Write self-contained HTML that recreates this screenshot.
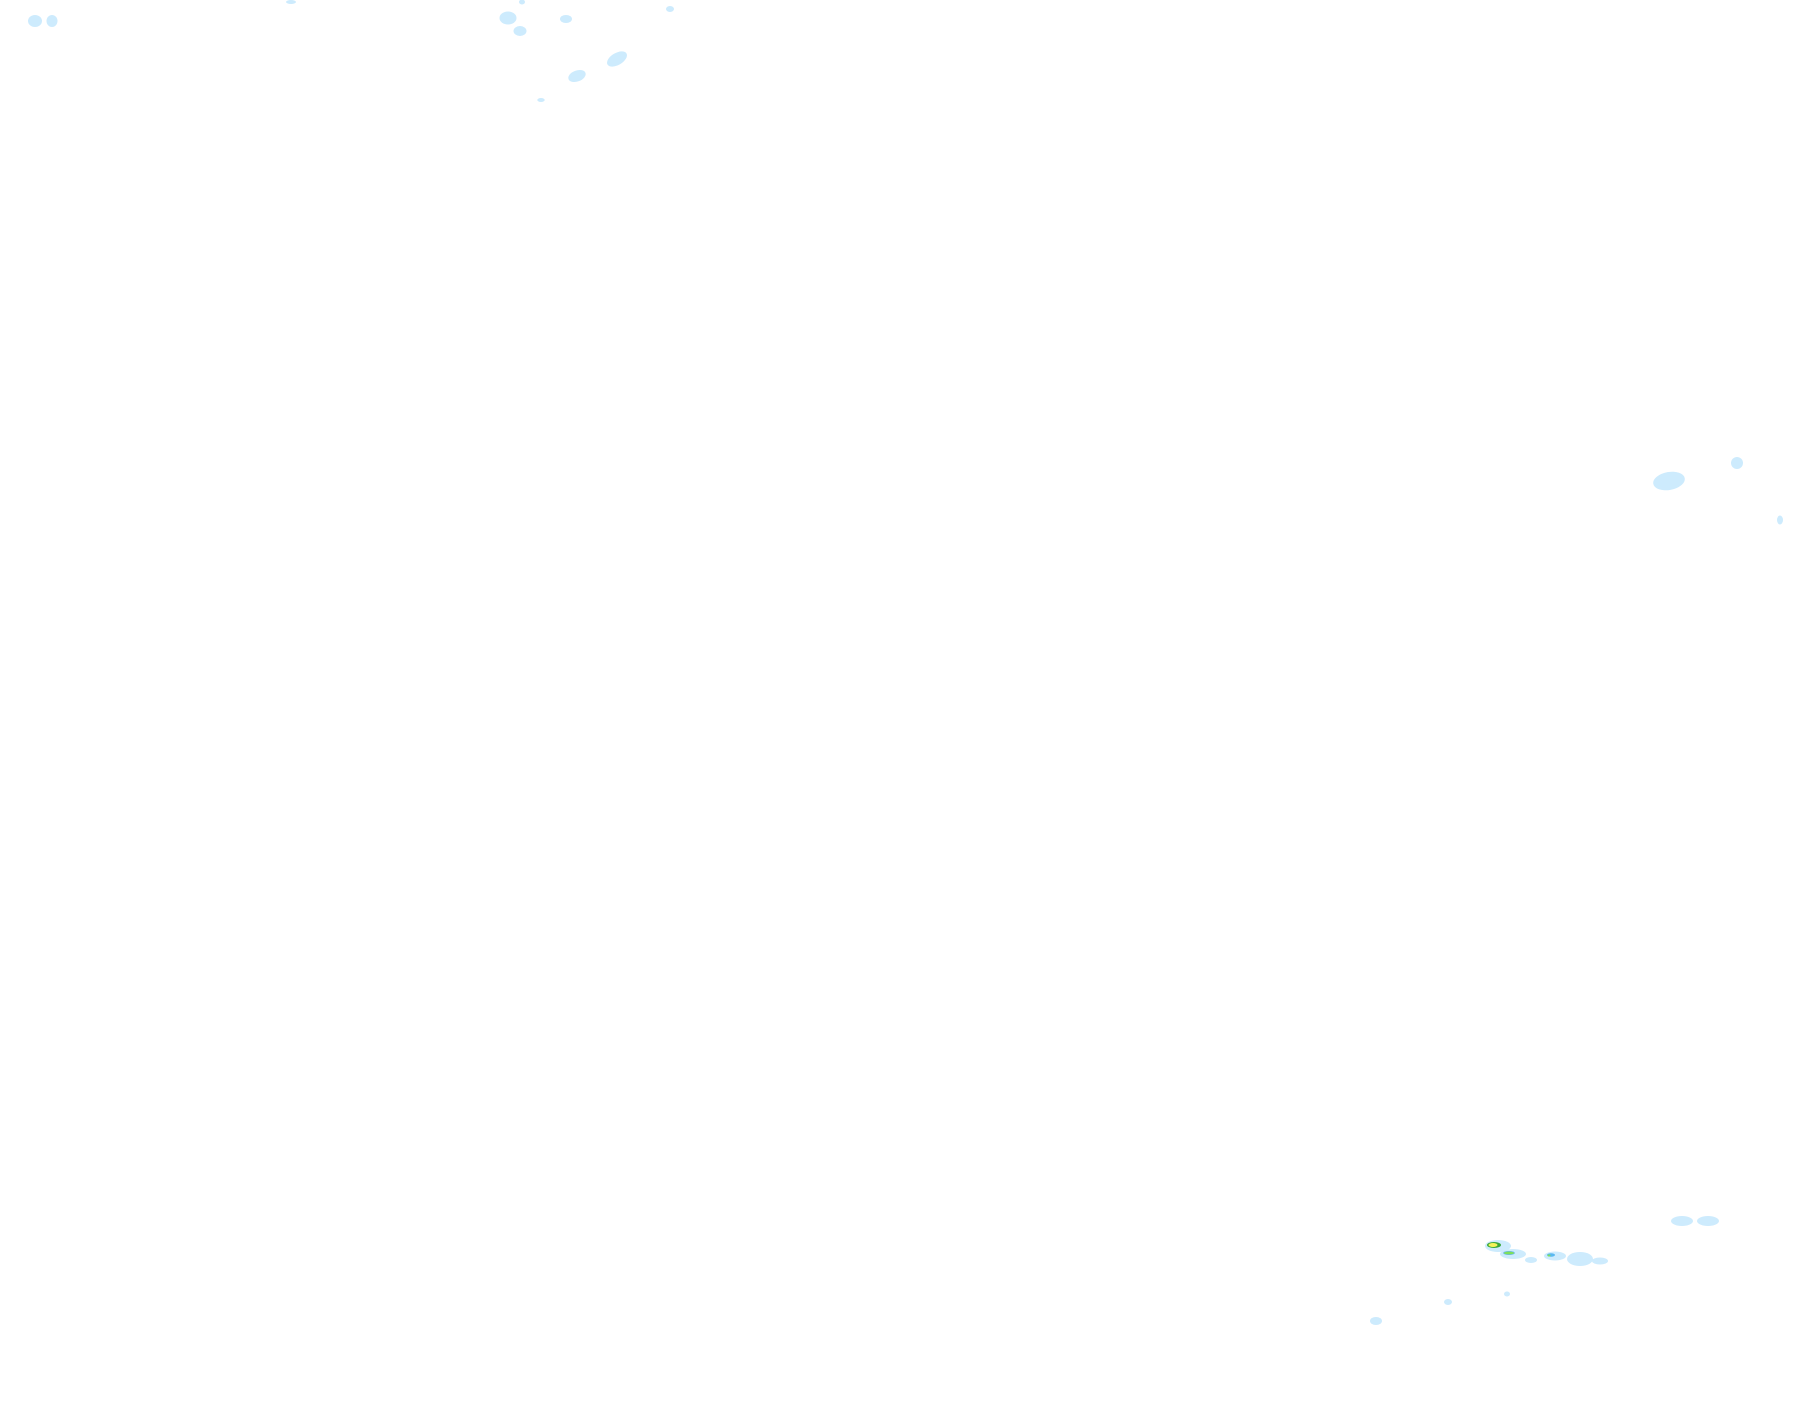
<!DOCTYPE html>
<html><head><meta charset="utf-8"><style>
html,body{margin:0;padding:0;background:#fff;width:1815px;height:1424px;overflow:hidden}
</style></head><body>
<svg width="1815" height="1424" viewBox="0 0 1815 1424" xmlns="http://www.w3.org/2000/svg">
<g fill="#cdebfd">
<ellipse cx="35" cy="21" rx="7" ry="6"/>
<ellipse cx="52" cy="21" rx="5.5" ry="6"/>
<ellipse cx="291" cy="2" rx="5" ry="2"/>
<ellipse cx="508" cy="18" rx="8.5" ry="6.5"/>
<ellipse cx="522" cy="2" rx="3" ry="2.5"/>
<ellipse cx="520" cy="31" rx="6.5" ry="5"/>
<ellipse cx="566" cy="19" rx="6" ry="4"/>
<ellipse cx="670" cy="9" rx="4" ry="3"/>
<ellipse cx="617" cy="59" rx="11" ry="6" transform="rotate(-30 617 59)"/>
<ellipse cx="577" cy="76" rx="9" ry="5.5" transform="rotate(-20 577 76)"/>
<ellipse cx="541" cy="100" rx="3.7" ry="2"/>
<ellipse cx="1669" cy="481" rx="16" ry="9" transform="rotate(-10 1669 481)"/>
<ellipse cx="1737" cy="463" rx="6" ry="6"/>
<ellipse cx="1780" cy="520" rx="3" ry="4.5"/>
<ellipse cx="1682" cy="1221" rx="11" ry="5"/>
<ellipse cx="1708" cy="1221" rx="11" ry="5"/>
<ellipse cx="1498" cy="1246" rx="13" ry="6"/>
<ellipse cx="1513" cy="1254" rx="13" ry="5"/>
<ellipse cx="1531" cy="1260" rx="6" ry="3"/>
<ellipse cx="1555" cy="1256" rx="11" ry="4.5"/>
<ellipse cx="1580" cy="1259" rx="13" ry="7"/>
<ellipse cx="1600" cy="1261" rx="8" ry="3.5"/>
<ellipse cx="1507" cy="1294" rx="3" ry="2.5"/>
<ellipse cx="1448" cy="1302" rx="4" ry="3"/>
<ellipse cx="1376" cy="1321" rx="6" ry="4"/>
</g>
<ellipse cx="1494" cy="1245" rx="7" ry="3" fill="#3aa83a"/>
<ellipse cx="1493" cy="1245" rx="4.5" ry="2" fill="#f4f25a"/>
<ellipse cx="1509" cy="1253" rx="5.5" ry="1.7" fill="#7ee05a" stroke="#6ab8f0" stroke-width="0.6"/>
<ellipse cx="1551" cy="1255" rx="4" ry="1.7" fill="#5ab8f0"/>
<ellipse cx="1549" cy="1255.5" rx="1.5" ry="1" fill="#7ee05a"/>
</svg>
</body></html>
